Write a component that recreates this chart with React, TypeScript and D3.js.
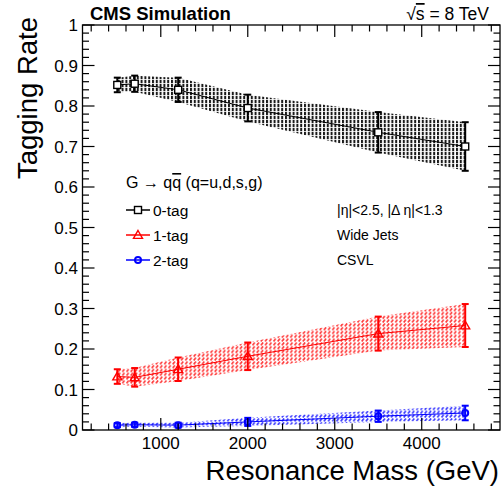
import React from "react";
import * as d3 from "d3";

const masses = [500, 700, 1200, 2000, 3500, 4500];
const tag0 = [0.852, 0.855, 0.84, 0.795, 0.735, 0.70];
const tag0Err = [0.018, 0.02, 0.03, 0.033, 0.05, 0.06];
const tag1 = [0.132, 0.13, 0.15, 0.182, 0.238, 0.258];
const tag1Err = [0.018, 0.023, 0.029, 0.034, 0.042, 0.053];
const tag2 = [0.012, 0.013, 0.012, 0.02, 0.034, 0.042];
const tag2Err = [0.005, 0.005, 0.006, 0.01, 0.014, 0.018];

const xTicks = [1000, 2000, 3000, 4000];
const yTicks = [0, 0.1, 0.2, 0.3, 0.4, 0.5, 0.6, 0.7, 0.8, 0.9, 1];
const yTickLabels = ["0", "0.1", "0.2", "0.3", "0.4", "0.5", "0.6", "0.7", "0.8", "0.9", "1"];
const legendLabels = ["0-tag", "1-tag", "2-tag"];
const infoLabels = ["|\u03b7|<2.5, |\u0394 \u03b7|<1.3", "Wide Jets", "CSVL"];

const W = 502;
const H = 488;
const L = 82.5, R = 500, T = 25, B = 430;
const FONT = "'Liberation Sans', Arial, Helvetica, sans-serif";

export default function App() {
  const x = d3.scaleLinear().domain([100, 4900]).range([L, R]);
  const y = d3.scaleLinear().domain([0, 1]).range([B, T]);

  const xMinor = d3.range(200, 4900, 200);
  const yMinor = d3.range(0, 1.0001, 0.02);

  const series = [
    { vals: tag0, errs: tag0Err, color: "#000000", pat: "hatchK", marker: "square" },
    { vals: tag1, errs: tag1Err, color: "#ff0000", pat: "hatchR", marker: "triangle" },
    { vals: tag2, errs: tag2Err, color: "#0000ff", pat: "hatchB", marker: "circle" },
  ];

  const line = d3.line<number>().x((_, i) => x(masses[i])).y((d) => y(d));

  const marker = (kind: string, cx: number, cy: number, color: string, key?: string) => {
    if (kind === "square")
      return <rect key={key} x={cx - 3.5} y={cy - 3.5} width={7} height={7} fill="white" stroke={color} strokeWidth={1.4} />;
    if (kind === "triangle") {
      const s = 4.5;
      return (
        <path key={key} d={`M${cx},${cy - s}L${cx + s},${cy + s * 0.75}L${cx - s},${cy + s * 0.75}Z`} fill="none" stroke={color} strokeWidth={1.4} />
      );
    }
    return <circle key={key} cx={cx} cy={cy} r={3} fill="none" stroke={color} strokeWidth={2} />;
  };

  return (
    <svg width={W} height={H} style={{ position: "absolute", left: 0, top: 0, background: "white" }} fontFamily={FONT}>
      <defs>
        <pattern id="hatchK" width={3.8} height={4} patternUnits="userSpaceOnUse">
          <rect x={0} y={0} width={2} height={3.2} fill="#000" />
        </pattern>
        <pattern id="hatchR" width={4.2} height={3.8} patternUnits="userSpaceOnUse">
          <path d="M0.5,3.3L2.7,0.5" stroke="#ff0000" strokeWidth={1.6} />
        </pattern>
        <pattern id="hatchB" width={4.2} height={3.8} patternUnits="userSpaceOnUse">
          <path d="M0.5,3.3L2.7,0.5" stroke="#0000ff" strokeWidth={1.6} />
        </pattern>
      </defs>
      <rect x={0} y={0} width={W} height={H} fill="white" />

      {/* bands */}
      {series.map((s, si) => {
        const a = d3
          .area<number>()
          .x((_, i) => x(masses[i]))
          .y0((d, i) => y(d - s.errs[i]))
          .y1((d, i) => y(d + s.errs[i]));
        return <path key={"band" + si} d={a(s.vals) || ""} fill={`url(#${s.pat})`} opacity={si === 0 ? 0.9 : 0.8} />;
      })}

      {/* lines, error bars, markers */}
      {series.map((s, si) => (
        <g key={"s" + si}>
          <path d={line(s.vals) || ""} fill="none" stroke={s.color} strokeWidth={1} />
          {s.vals.map((v, i) => {
            const cx = x(masses[i]);
            const y0 = y(v - s.errs[i]);
            const y1 = y(v + s.errs[i]);
            return (
              <g key={i} stroke={s.color} strokeWidth={2}>
                <line x1={cx} x2={cx} y1={y0} y2={y1} />
                <line x1={cx - 3.5} x2={cx + 3.5} y1={y0} y2={y0} />
                <line x1={cx - 3.5} x2={cx + 3.5} y1={y1} y2={y1} />
              </g>
            );
          })}
          {s.vals.map((v, i) => marker(s.marker, x(masses[i]), y(v), s.color, "m" + i))}
        </g>
      ))}

      {/* frame */}
      <rect x={L} y={T} width={R - L} height={B - T} fill="none" stroke="#000" strokeWidth={1.3} />

      {/* x ticks */}
      {xMinor.map((t) => {
        const major = t % 1000 === 0;
        const len = major ? 12 : 6.5;
        return (
          <g key={"xt" + t} stroke="#000" strokeWidth={1.2}>
            <line x1={x(t)} x2={x(t)} y1={B} y2={B - len} />
            <line x1={x(t)} x2={x(t)} y1={T} y2={T + len} />
          </g>
        );
      })}
      {/* y ticks */}
      {yMinor.map((t, i) => {
        const major = i % 5 === 0;
        const len = major ? 12 : 6.5;
        return (
          <g key={"yt" + i} stroke="#000" strokeWidth={1.2}>
            <line x1={L} x2={L + len} y1={y(t)} y2={y(t)} />
            <line x1={R} x2={R - len} y1={y(t)} y2={y(t)} />
          </g>
        );
      })}

      {/* tick labels */}
      {xTicks.map((t) => (
        <text key={"xl" + t} x={x(t)} y={449} fontSize={17} textAnchor="middle" fill="#000">
          {t}
        </text>
      ))}
      {yTicks.map((t, i) => (
        <text key={"yl" + i} x={78} y={y(t) + 6} fontSize={17} textAnchor="end" fill="#000">
          {yTickLabels[i]}
        </text>
      ))}

      {/* axis titles */}
      <text x={499} y={480} fontSize={27.5} textAnchor="end" fill="#000">
        Resonance Mass (GeV)
      </text>
      <text transform="translate(37,17) rotate(-90)" fontSize={27.5} textAnchor="end" fill="#000">
        Tagging Rate
      </text>

      {/* header */}
      <text x={90} y={20} fontSize={18.5} fontWeight="bold" fill="#000">
        CMS Simulation
      </text>
      <text x={489} y={20} fontSize={17.5} textAnchor="end" fill="#000">
        {"\u221a"}
        <tspan style={{ textDecoration: "overline" }}>s</tspan>
        {" = 8 TeV"}
      </text>

      {/* legend */}
      <text x={126} y={188} fontSize={16} fill="#000">
        {"G \u2192 q"}
        <tspan style={{ textDecoration: "overline" }}>q</tspan>
        {" (q=u,d,s,g)"}
      </text>
      {series.map((s, i) => {
        const cy = 210 + i * 25;
        return (
          <g key={"lg" + i}>
            <line x1={126} x2={150} y1={cy} y2={cy} stroke={s.color} strokeWidth={1.5} />
            {marker(s.marker, 138, cy, s.color)}
            <text x={153} y={cy + 5.5} fontSize={15.5} fill="#000">
              {legendLabels[i]}
            </text>
            <text x={337} y={cy + 5} fontSize={14} fill="#000">
              {infoLabels[i]}
            </text>
          </g>
        );
      })}
    </svg>
  );
}
